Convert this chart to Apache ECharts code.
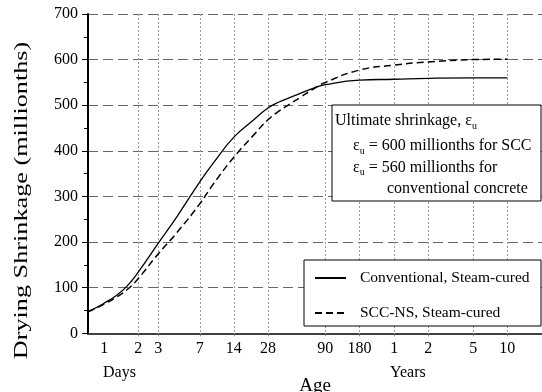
<!DOCTYPE html>
<html>
<head>
<meta charset="utf-8">
<script src="https://cdn.jsdelivr.net/npm/echarts@6/dist/echarts.min.js"></script>
<style>
html,body{margin:0;padding:0;background:#fff;}
#chart{width:542px;height:392px;}
</style>
</head>
<body>
<div id="chart"></div>
<script>
// Age in days (log axis)
const days = [0.72, 1, 1.3, 1.6, 2, 3, 4.4, 7, 9.2, 14, 21, 28, 35, 44, 54, 70, 90, 180, 365, 730, 1825, 3650];
// Drying shrinkage (millionths)
const conventional = [47, 66, 84, 104, 134, 197, 256, 332, 373, 430, 468, 494, 507, 517, 526, 537, 545, 555, 557, 559, 560, 560];
const sccNS = [47, 64, 80, 96, 120, 174, 221, 284, 327, 386, 435, 468, 487, 503, 517, 535, 550, 577, 588, 595, 600, 601];
const seriesNames = ['Conventional, Steam-cured', 'SCC-NS, Steam-cured'];
// x tick positions (days) and their labels
const tickDays = [1, 2, 3, 7, 14, 28, 90, 180, 365, 730, 1825, 3650];
const tickLabels = ['1', '2', '3', '7', '14', '28', '90', '180', '1', '2', '5', '10'];
const gridDays = [2, 3, 7, 14, 28, 90, 180, 365, 730, 1825, 3650];
const yTicks = [0, 100, 200, 300, 400, 500, 600, 700];

const FONT = '"Liberation Serif", "Times New Roman", serif';
const chart = echarts.init(document.getElementById('chart'), null, {renderer: 'canvas'});

function pairs(xs, ys) { return xs.map((x, i) => [x, ys[i]]); }

const rich = {
  t: {fontFamily: FONT, fontSize: 16, color: '#000', lineHeight: 20, verticalAlign: 'middle'},
  s: {fontFamily: FONT, fontSize: 10, color: '#000', lineHeight: 10, verticalAlign: 'bottom'}
};

chart.setOption({
  animation: false,
  backgroundColor: '#fff',
  grid: {left: 88, right: 0, top: 14, bottom: 58.7, containLabel: false, outerBoundsMode: 'none'},
  xAxis: [{
    type: 'log', logBase: 10, min: 0.72, max: 7390,
    axisLine: {show: true, onZero: false, lineStyle: {color: '#000', width: 2}},
    axisTick: {show: true, customValues: gridDays, length: 3, lineStyle: {color: '#888'}},
    axisLabel: {
      customValues: tickDays, color: '#000', fontFamily: FONT, fontSize: 16, margin: 7,
      formatter: function (v) {
        for (let i = 0; i < tickDays.length; i++) {
          if (Math.abs(v - tickDays[i]) / tickDays[i] < 0.01) return tickLabels[i];
        }
        return '';
      }
    },
    splitLine: {show: true, lineStyle: {color: '#999', width: 1, type: [2, 2]}},
    minorTick: {show: false}, minorSplitLine: {show: false},
    name: 'Age', nameLocation: 'middle', nameGap: 43,
    nameTextStyle: {fontFamily: FONT, fontSize: 19, color: '#000'}
  }, {
    type: 'value', position: 'top', min: 0, max: 1,
    axisLine: {show: true, lineStyle: {color: '#555', width: 1.5}},
    axisTick: {show: false}, axisLabel: {show: false}, splitLine: {show: false}
  }],
  yAxis: {
    type: 'value', min: yTicks[0], max: yTicks[yTicks.length - 1], interval: 100,
    axisLine: {show: true, lineStyle: {color: '#000', width: 2}},
    axisTick: {show: true, length: 6, lineStyle: {color: '#000'}},
    minorTick: {show: true, splitNumber: 2, length: 4, lineStyle: {color: '#000'}},
    axisLabel: {color: '#000', fontFamily: FONT, fontSize: 16, margin: 10},
    splitLine: {show: true, lineStyle: {color: '#666', width: 1, type: [10, 5]}}
  },
  legend: {
    show: true, orient: 'vertical', left: 314, top: 270, padding: 0,
    itemWidth: 31, itemHeight: 14, itemGap: 19, z: 20,
    data: seriesNames,
    itemStyle: {opacity: 0},
    textStyle: {fontFamily: FONT, fontSize: 15.5, color: '#000', padding: [0, 0, 0, 9]}
  },
  series: [{
    name: seriesNames[0], type: 'line', data: pairs(days, conventional),
    symbol: 'none', smooth: 0.5,
    lineStyle: {color: '#000', width: 1.3, type: 'solid'}, itemStyle: {color: '#000', opacity: 0}
  }, {
    name: seriesNames[1], type: 'line', data: pairs(days, sccNS),
    symbol: 'none', smooth: 0.5,
    lineStyle: {color: '#000', width: 1.5, type: [7, 4]}, itemStyle: {color: '#000', opacity: 0}
  }],
  graphic: {elements: [
    {type: 'text', x: 22.5, y: 200.5, rotation: Math.PI / 2, scaleX: 1.38, z: 5,
     style: {text: 'Drying Shrinkage (millionths)', fontFamily: FONT, fontSize: 19, fill: '#000',
             textAlign: 'center', textVerticalAlign: 'middle'}},
    {type: 'text', x: 103, y: 373, z: 5,
     style: {text: 'Days', fontFamily: FONT, fontSize: 16, fill: '#000', textAlign: 'left', textVerticalAlign: 'middle'}},
    {type: 'text', x: 390, y: 373, z: 5,
     style: {text: 'Years', fontFamily: FONT, fontSize: 16, fill: '#000', textAlign: 'left', textVerticalAlign: 'middle'}},
    // text box
    {type: 'rect', z: 10, shape: {x: 332, y: 105, width: 209, height: 96},
     style: {fill: '#fff', stroke: '#000', lineWidth: 1}},
    {type: 'text', x: 335, y: 121, z: 11,
     style: {text: '{t|Ultimate shrinkage, ε}{s|u}', rich: rich, textAlign: 'left', textVerticalAlign: 'middle'}},
    {type: 'text', x: 353, y: 146, z: 11,
     style: {text: '{t|ε}{s|u}{t| = 600 millionths for SCC}', rich: rich, textAlign: 'left', textVerticalAlign: 'middle'}},
    {type: 'text', x: 353, y: 167.5, z: 11,
     style: {text: '{t|ε}{s|u}{t| = 560 millionths for}', rich: rich, textAlign: 'left', textVerticalAlign: 'middle'}},
    {type: 'text', x: 387, y: 189, z: 11,
     style: {text: 'conventional concrete', fontFamily: FONT, fontSize: 16, fill: '#000', textAlign: 'left', textVerticalAlign: 'middle'}},
    // legend box
    {type: 'rect', z: 10, shape: {x: 304, y: 260, width: 237, height: 66},
     style: {fill: '#fff', stroke: '#000', lineWidth: 1}}
  ]}
});
</script>
</body>
</html>
